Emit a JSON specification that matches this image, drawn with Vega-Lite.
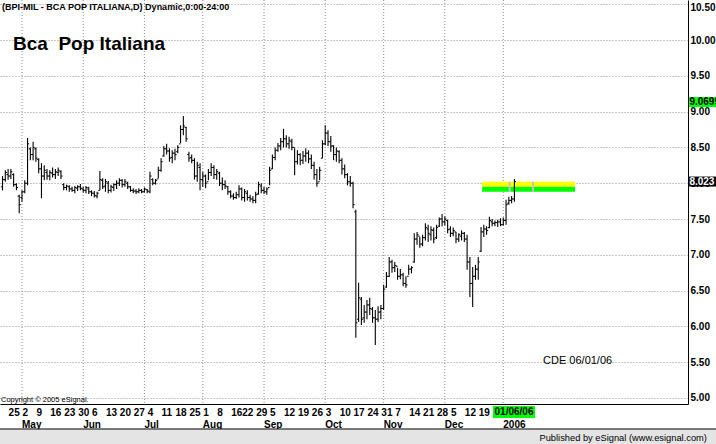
{
  "$schema": "https://vega.github.io/schema/vega-lite/v6.json",
  "width": 688,
  "height": 404,
  "autosize": {"type": "none"},
  "padding": {"left": 0, "top": 0, "right": 28, "bottom": 40},
  "background": "#ffffff",
  "config": {
    "view": {"stroke": null},
    "font": "Liberation Sans",
    "axis": {"labelOverlap": false, "labelFlush": false, "ticks": false, "tickCount": 100},
    "scale": {"continuousPadding": 0}
  },
  "datasets": {
    "months": [
      {"day":6,"month":"May"},{"day":28,"month":"Jun"},{"day":50,"month":"Jul"},
      {"day":71,"month":"Aug"},{"day":93,"month":"Sep"},{"day":115,"month":"Oct"},
      {"day":136,"month":"Nov"},{"day":158,"month":"Dec"},{"day":179,"month":"2006"}
    ],
    "bars": [
      {"day":-1,"open":7.95,"high":8.10,"low":7.90,"close":8.05},
      {"day":0,"open":8.05,"high":8.18,"low":8.02,"close":8.15},
      {"day":1,"open":8.12,"high":8.20,"low":8.05,"close":8.10},
      {"day":2,"open":8.10,"high":8.20,"low":8.06,"close":8.16},
      {"day":3,"open":8.12,"high":8.14,"low":7.95,"close":7.98},
      {"day":4,"open":7.98,"high":8.00,"low":7.90,"close":7.94},
      {"day":5,"open":7.82,"high":7.84,"low":7.58,"close":7.70},
      {"day":6,"open":7.80,"high":7.90,"low":7.74,"close":7.88},
      {"day":7,"open":7.88,"high":8.04,"low":7.86,"close":8.00},
      {"day":8,"open":8.00,"high":8.63,"low":7.97,"close":8.55},
      {"day":9,"open":8.48,"high":8.50,"low":8.32,"close":8.40},
      {"day":10,"open":8.40,"high":8.58,"low":8.32,"close":8.50},
      {"day":11,"open":8.48,"high":8.50,"low":8.30,"close":8.35},
      {"day":12,"open":8.33,"high":8.35,"low":8.14,"close":8.20},
      {"day":13,"open":8.20,"high":8.28,"low":7.79,"close":8.10},
      {"day":14,"open":8.10,"high":8.25,"low":8.04,"close":8.18},
      {"day":15,"open":8.15,"high":8.20,"low":8.05,"close":8.10},
      {"day":16,"open":8.10,"high":8.18,"low":8.04,"close":8.15},
      {"day":17,"open":8.14,"high":8.22,"low":8.08,"close":8.12},
      {"day":18,"open":8.12,"high":8.20,"low":8.06,"close":8.16},
      {"day":19,"open":8.15,"high":8.22,"low":8.10,"close":8.18},
      {"day":20,"open":8.16,"high":8.18,"low":8.06,"close":8.10},
      {"day":21,"open":7.98,"high":8.00,"low":7.90,"close":7.94},
      {"day":22,"open":7.94,"high":7.98,"low":7.90,"close":7.96},
      {"day":23,"open":7.95,"high":7.97,"low":7.88,"close":7.92},
      {"day":24,"open":7.92,"high":7.95,"low":7.88,"close":7.90},
      {"day":25,"open":7.90,"high":7.96,"low":7.86,"close":7.94},
      {"day":26,"open":7.93,"high":7.97,"low":7.89,"close":7.95},
      {"day":27,"open":7.95,"high":7.99,"low":7.90,"close":7.93},
      {"day":28,"open":7.92,"high":7.95,"low":7.87,"close":7.90},
      {"day":29,"open":7.90,"high":7.96,"low":7.86,"close":7.94},
      {"day":30,"open":7.92,"high":7.95,"low":7.85,"close":7.88},
      {"day":31,"open":7.88,"high":7.90,"low":7.82,"close":7.86},
      {"day":32,"open":7.86,"high":7.89,"low":7.80,"close":7.83},
      {"day":33,"open":7.82,"high":7.88,"low":7.79,"close":7.86},
      {"day":34,"open":7.90,"high":8.17,"low":7.90,"close":8.05},
      {"day":35,"open":8.04,"high":8.07,"low":7.92,"close":7.95},
      {"day":36,"open":7.96,"high":8.06,"low":7.88,"close":8.02},
      {"day":37,"open":8.00,"high":8.03,"low":7.86,"close":7.90},
      {"day":38,"open":7.90,"high":7.98,"low":7.87,"close":7.95},
      {"day":39,"open":7.94,"high":8.00,"low":7.89,"close":7.98},
      {"day":40,"open":7.98,"high":8.04,"low":7.92,"close":8.00},
      {"day":41,"open":8.00,"high":8.07,"low":7.96,"close":8.04},
      {"day":42,"open":8.04,"high":8.06,"low":7.94,"close":7.98},
      {"day":43,"open":7.98,"high":8.06,"low":7.95,"close":8.02},
      {"day":44,"open":8.00,"high":8.02,"low":7.92,"close":7.95},
      {"day":45,"open":7.95,"high":7.96,"low":7.88,"close":7.90},
      {"day":46,"open":7.90,"high":7.93,"low":7.86,"close":7.89},
      {"day":47,"open":7.89,"high":7.92,"low":7.85,"close":7.88},
      {"day":48,"open":7.88,"high":7.93,"low":7.86,"close":7.90},
      {"day":49,"open":7.90,"high":7.92,"low":7.86,"close":7.88},
      {"day":50,"open":7.88,"high":7.94,"low":7.87,"close":7.92},
      {"day":51,"open":7.91,"high":7.92,"low":7.86,"close":7.89},
      {"day":52,"open":7.88,"high":8.16,"low":7.86,"close":8.10},
      {"day":53,"open":8.05,"high":8.07,"low":7.97,"close":8.00},
      {"day":54,"open":8.00,"high":8.06,"low":7.98,"close":8.04},
      {"day":55,"open":8.06,"high":8.23,"low":8.07,"close":8.18},
      {"day":56,"open":8.18,"high":8.35,"low":8.16,"close":8.30},
      {"day":57,"open":8.38,"high":8.52,"low":8.37,"close":8.48},
      {"day":58,"open":8.48,"high":8.55,"low":8.40,"close":8.45},
      {"day":59,"open":8.45,"high":8.49,"low":8.30,"close":8.35},
      {"day":60,"open":8.36,"high":8.46,"low":8.28,"close":8.42},
      {"day":61,"open":8.42,"high":8.48,"low":8.32,"close":8.40},
      {"day":62,"open":8.44,"high":8.53,"low":8.42,"close":8.50},
      {"day":63,"open":8.55,"high":8.81,"low":8.56,"close":8.75},
      {"day":64,"open":8.75,"high":8.94,"low":8.67,"close":8.80},
      {"day":65,"open":8.78,"high":8.79,"low":8.58,"close":8.62},
      {"day":66,"open":8.40,"high":8.44,"low":8.30,"close":8.35},
      {"day":67,"open":8.36,"high":8.40,"low":8.28,"close":8.32},
      {"day":68,"open":8.32,"high":8.35,"low":8.05,"close":8.10},
      {"day":69,"open":8.10,"high":8.30,"low":8.02,"close":8.25},
      {"day":70,"open":8.22,"high":8.28,"low":7.90,"close":8.05},
      {"day":71,"open":8.05,"high":8.16,"low":7.95,"close":8.10},
      {"day":72,"open":8.10,"high":8.12,"low":7.93,"close":8.00},
      {"day":73,"open":8.02,"high":8.20,"low":8.04,"close":8.15},
      {"day":74,"open":8.15,"high":8.28,"low":8.10,"close":8.22},
      {"day":75,"open":8.22,"high":8.25,"low":8.06,"close":8.12},
      {"day":76,"open":8.12,"high":8.20,"low":8.05,"close":8.16},
      {"day":77,"open":8.14,"high":8.16,"low":7.96,"close":8.00},
      {"day":78,"open":8.00,"high":8.08,"low":7.90,"close":7.98},
      {"day":79,"open":7.98,"high":8.04,"low":7.92,"close":7.96},
      {"day":80,"open":7.95,"high":7.96,"low":7.84,"close":7.88},
      {"day":81,"open":7.88,"high":7.90,"low":7.79,"close":7.82},
      {"day":82,"open":7.82,"high":7.86,"low":7.77,"close":7.80},
      {"day":83,"open":7.80,"high":7.88,"low":7.78,"close":7.84},
      {"day":84,"open":7.84,"high":7.97,"low":7.80,"close":7.92},
      {"day":85,"open":7.92,"high":7.94,"low":7.76,"close":7.80},
      {"day":86,"open":7.80,"high":7.92,"low":7.74,"close":7.88},
      {"day":87,"open":7.86,"high":7.90,"low":7.76,"close":7.80},
      {"day":88,"open":7.80,"high":7.84,"low":7.74,"close":7.78},
      {"day":89,"open":7.78,"high":7.82,"low":7.72,"close":7.76},
      {"day":90,"open":7.76,"high":7.88,"low":7.72,"close":7.84},
      {"day":91,"open":7.85,"high":8.02,"low":7.84,"close":7.98},
      {"day":92,"open":7.96,"high":8.00,"low":7.86,"close":7.90},
      {"day":93,"open":7.90,"high":7.95,"low":7.85,"close":7.88},
      {"day":94,"open":7.88,"high":7.94,"low":7.84,"close":7.92},
      {"day":95,"open":7.94,"high":8.23,"low":7.97,"close":8.18},
      {"day":96,"open":8.20,"high":8.40,"low":8.20,"close":8.36},
      {"day":97,"open":8.36,"high":8.50,"low":8.32,"close":8.46},
      {"day":98,"open":8.46,"high":8.56,"low":8.44,"close":8.52},
      {"day":99,"open":8.52,"high":8.63,"low":8.46,"close":8.58},
      {"day":100,"open":8.58,"high":8.76,"low":8.50,"close":8.62},
      {"day":101,"open":8.62,"high":8.67,"low":8.50,"close":8.55},
      {"day":102,"open":8.55,"high":8.65,"low":8.48,"close":8.60},
      {"day":103,"open":8.58,"high":8.62,"low":8.46,"close":8.50},
      {"day":104,"open":8.50,"high":8.49,"low":8.11,"close":8.30},
      {"day":105,"open":8.30,"high":8.46,"low":8.26,"close":8.40},
      {"day":106,"open":8.40,"high":8.42,"low":8.25,"close":8.32},
      {"day":107,"open":8.32,"high":8.45,"low":8.27,"close":8.38},
      {"day":108,"open":8.38,"high":8.49,"low":8.30,"close":8.42},
      {"day":109,"open":8.42,"high":8.46,"low":8.28,"close":8.34},
      {"day":110,"open":8.34,"high":8.40,"low":8.20,"close":8.25},
      {"day":111,"open":8.25,"high":8.30,"low":8.05,"close":8.12},
      {"day":112,"open":8.12,"high":8.20,"low":7.95,"close":8.00},
      {"day":113,"open":8.02,"high":8.23,"low":8.04,"close":8.18},
      {"day":114,"open":8.35,"high":8.60,"low":8.35,"close":8.55},
      {"day":115,"open":8.55,"high":8.81,"low":8.53,"close":8.70},
      {"day":116,"open":8.70,"high":8.74,"low":8.52,"close":8.58},
      {"day":117,"open":8.58,"high":8.66,"low":8.44,"close":8.52},
      {"day":118,"open":8.52,"high":8.53,"low":8.32,"close":8.40},
      {"day":119,"open":8.40,"high":8.50,"low":8.30,"close":8.45},
      {"day":120,"open":8.44,"high":8.46,"low":8.28,"close":8.32},
      {"day":121,"open":8.32,"high":8.35,"low":8.12,"close":8.20},
      {"day":122,"open":8.20,"high":8.26,"low":8.07,"close":8.12},
      {"day":123,"open":8.12,"high":8.14,"low":7.97,"close":8.02},
      {"day":124,"open":8.02,"high":8.10,"low":7.95,"close":8.00},
      {"day":125,"open":8.00,"high":8.02,"low":7.65,"close":7.70},
      {"day":126,"open":7.60,"high":7.63,"low":5.84,"close":6.05},
      {"day":127,"open":6.10,"high":6.61,"low":6.06,"close":6.40},
      {"day":128,"open":6.38,"high":6.41,"low":6.02,"close":6.10},
      {"day":129,"open":6.12,"high":6.30,"low":6.05,"close":6.20},
      {"day":130,"open":6.20,"high":6.37,"low":6.10,"close":6.30},
      {"day":131,"open":6.30,"high":6.40,"low":6.16,"close":6.25},
      {"day":132,"open":6.24,"high":6.27,"low":6.05,"close":6.12},
      {"day":133,"open":6.12,"high":6.23,"low":5.74,"close":6.10},
      {"day":134,"open":6.10,"high":6.28,"low":6.06,"close":6.20},
      {"day":135,"open":6.20,"high":6.30,"low":6.10,"close":6.25},
      {"day":136,"open":6.25,"high":6.58,"low":6.23,"close":6.52},
      {"day":137,"open":6.55,"high":6.76,"low":6.54,"close":6.70},
      {"day":138,"open":6.70,"high":6.97,"low":6.69,"close":6.90},
      {"day":139,"open":6.90,"high":6.93,"low":6.75,"close":6.82},
      {"day":140,"open":6.82,"high":6.90,"low":6.76,"close":6.85},
      {"day":141,"open":6.84,"high":6.82,"low":6.65,"close":6.70},
      {"day":142,"open":6.70,"high":6.80,"low":6.66,"close":6.72},
      {"day":143,"open":6.72,"high":6.75,"low":6.56,"close":6.60},
      {"day":144,"open":6.60,"high":6.70,"low":6.54,"close":6.58},
      {"day":145,"open":6.70,"high":6.86,"low":6.72,"close":6.80},
      {"day":146,"open":6.80,"high":6.84,"low":6.74,"close":6.82},
      {"day":147,"open":6.90,"high":7.30,"low":6.89,"close":7.22},
      {"day":148,"open":7.22,"high":7.32,"low":7.14,"close":7.28},
      {"day":149,"open":7.26,"high":7.25,"low":7.10,"close":7.15},
      {"day":150,"open":7.15,"high":7.28,"low":7.12,"close":7.24},
      {"day":151,"open":7.24,"high":7.44,"low":7.20,"close":7.38},
      {"day":152,"open":7.36,"high":7.42,"low":7.18,"close":7.30},
      {"day":153,"open":7.28,"high":7.40,"low":7.20,"close":7.35},
      {"day":154,"open":7.34,"high":7.38,"low":7.16,"close":7.22},
      {"day":155,"open":7.24,"high":7.42,"low":7.22,"close":7.38},
      {"day":156,"open":7.40,"high":7.52,"low":7.39,"close":7.50},
      {"day":157,"open":7.50,"high":7.57,"low":7.40,"close":7.46},
      {"day":158,"open":7.46,"high":7.54,"low":7.41,"close":7.50},
      {"day":159,"open":7.48,"high":7.49,"low":7.30,"close":7.35},
      {"day":160,"open":7.36,"high":7.40,"low":7.25,"close":7.30},
      {"day":161,"open":7.30,"high":7.38,"low":7.26,"close":7.34},
      {"day":162,"open":7.32,"high":7.32,"low":7.16,"close":7.22},
      {"day":163,"open":7.22,"high":7.30,"low":7.18,"close":7.28},
      {"day":164,"open":7.26,"high":7.34,"low":7.20,"close":7.30},
      {"day":165,"open":7.30,"high":7.32,"low":7.18,"close":7.22},
      {"day":166,"open":7.22,"high":7.28,"low":6.79,"close":6.90},
      {"day":167,"open":6.90,"high":6.97,"low":6.41,"close":6.60},
      {"day":168,"open":6.60,"high":6.83,"low":6.27,"close":6.70},
      {"day":169,"open":6.70,"high":6.86,"low":6.65,"close":6.80},
      {"day":170,"open":6.80,"high":6.97,"low":6.65,"close":6.90},
      {"day":171,"open":7.05,"high":7.39,"low":7.04,"close":7.32},
      {"day":172,"open":7.32,"high":7.42,"low":7.25,"close":7.36},
      {"day":173,"open":7.36,"high":7.40,"low":7.28,"close":7.34},
      {"day":174,"open":7.38,"high":7.53,"low":7.37,"close":7.48},
      {"day":175,"open":7.46,"high":7.50,"low":7.40,"close":7.44},
      {"day":176,"open":7.44,"high":7.48,"low":7.40,"close":7.45},
      {"day":177,"open":7.45,"high":7.49,"low":7.39,"close":7.46},
      {"day":178,"open":7.46,"high":7.51,"low":7.40,"close":7.42},
      {"day":179,"open":7.42,"high":7.52,"low":7.41,"close":7.48},
      {"day":180,"open":7.48,"high":7.77,"low":7.42,"close":7.70},
      {"day":181,"open":7.72,"high":7.81,"low":7.70,"close":7.76},
      {"day":182,"open":7.76,"high":7.82,"low":7.72,"close":7.78},
      {"day":183,"open":7.78,"high":8.06,"low":7.74,"close":8.023}
    ],
    "band": [
      {"part":"upper","start":171.4,"end":204.8,"top":8.02,"bottom":7.95},
      {"part":"lower","start":171.4,"end":204.8,"top":7.95,"bottom":7.88}
    ],
    "bandMarks": [
      {"day":181.3,"top":8.02,"bottom":7.88},
      {"day":189.7,"top":8.02,"bottom":7.88}
    ],
    "markers": [
      {"kind":"high","label":"9.0699","price":9.0699},
      {"kind":"last","label":"8.023","price":8.023}
    ]
  },
  "layer": [
    {
      "data": {"name": "months"},
      "mark": {"type": "rule", "color": "#909090", "strokeWidth": 1, "strokeDash": [1,2]},
      "encoding": {
        "x": {
          "field": "day", "type": "quantitative", "title": null,
          "scale": {"domain": [-1.905, 245.4], "nice": false, "zero": false, "padding": 0},
          "axis": {
            "orient": "bottom",
            "values": [1,6,11,16,21,26,31,36,41,46,51,56,61,66,71,76,81,85,90,95,100,105,110,115,120,125,130,135,140,145,150,155,160,165,170],
            "tickCount": 100,
            "labelExpr": "['25','2','9','16','23','30','6','13','20','27','4','11','18','25','1','8','16','22','29','5','12','19','26','3','10','17','24','31','7','14','21','28','5','12','19'][indexof([1,6,11,16,21,26,31,36,41,46,51,56,61,66,71,76,81,85,90,95,100,105,110,115,120,125,130,135,140,145,150,155,160,165,170], datum.value)]",
            "labelAlign": "left", "labelBaseline": "top", "labelPadding": 3,
            "labelFont": "Liberation Sans", "labelFontSize": 10, "labelFontWeight": "bold", "labelColor": "#000000",
            "labelFlush": false, "labelOverlap": false,
            "grid": false, "ticks": false, "domain": true, "domainColor": "#000000", "domainWidth": 1, "title": null
          }
        }
      }
    },
    {
      "data": {"name": "band"},
      "mark": {"type": "rect"},
      "encoding": {
        "x": {"field": "start", "type": "quantitative", "title": null},
        "x2": {"field": "end", "title": null},
        "y": {
          "field": "top", "type": "quantitative", "title": null,
          "scale": {"domain": [4.916, 10.559], "nice": false, "zero": false, "padding": 0},
          "axis": {
            "orient": "right",
            "values": [5,5.5,6,6.5,7,7.5,8,8.5,9,9.5,10,10.5],
            "tickCount": 100,
            "format": ".2f",
            "grid": true, "gridColor": "#909090", "gridDash": [1,2], "gridWidth": 1,
            "domain": true, "domainColor": "#000000", "domainWidth": 1, "ticks": false,
            "labelPadding": 2, "labelFont": "Liberation Sans", "labelFontSize": 10, "labelFontWeight": "bold", "labelColor": "#000000",
            "labelOffset": {"condition": {"test": "datum.value >= 10.5", "value": 3}, "value": 0},
            "labelFlush": false, "labelOverlap": false, "title": null
          }
        },
        "y2": {"field": "bottom", "title": null},
        "color": {"condition": {"test": "datum.part == 'upper'", "value": "#ffff00"}, "value": "#00ff00"}
      }
    },
    {
      "data": {"name": "bandMarks"},
      "mark": {"type": "rule", "color": "#c4c4c4", "strokeWidth": 2},
      "encoding": {
        "x": {"field": "day", "type": "quantitative", "title": null},
        "y": {"field": "top", "type": "quantitative", "title": null},
        "y2": {"field": "bottom", "title": null}
      }
    },
    {
      "data": {"name": "bars"},
      "mark": {"type": "rule", "color": "#000000", "strokeWidth": 1.1},
      "encoding": {
        "x": {"field": "day", "type": "quantitative", "title": null},
        "y": {"field": "low", "type": "quantitative", "title": null},
        "y2": {"field": "high", "title": null}
      }
    },
    {
      "data": {"name": "bars"},
      "mark": {"type": "rule", "color": "#000000", "strokeWidth": 1, "xOffset": -1.6, "x2Offset": 0},
      "encoding": {
        "x": {"field": "day", "type": "quantitative", "title": null},
        "x2": {"field": "day", "title": null},
        "y": {"field": "open", "type": "quantitative", "title": null}
      }
    },
    {
      "data": {"name": "bars"},
      "mark": {"type": "rule", "color": "#000000", "strokeWidth": 1, "xOffset": 0, "x2Offset": 1.6},
      "encoding": {
        "x": {"field": "day", "type": "quantitative", "title": null},
        "x2": {"field": "day", "title": null},
        "y": {"field": "close", "type": "quantitative", "title": null}
      }
    },
    {
      "data": {"name": "months"},
      "mark": {"type": "text", "align": "left", "baseline": "alphabetic", "font": "Liberation Sans", "fontSize": 10, "fontWeight": "bold", "color": "#000000"},
      "encoding": {
        "x": {"field": "day", "type": "quantitative", "title": null},
        "y": {"datum": 4.581, "type": "quantitative"},
        "text": {"field": "month"}
      }
    },
    {
      "data": {"values": [{}]},
      "mark": {"type": "text", "text": "(BPI-MIL - BCA POP ITALIANA,D) Dynamic,0:00-24:00", "align": "left", "baseline": "alphabetic", "font": "Liberation Sans", "fontSize": 9, "fontWeight": "bold", "color": "#000000"},
      "encoding": {
        "x": {"datum": -1.2, "type": "quantitative"},
        "y": {"datum": 10.42, "type": "quantitative"}
      }
    },
    {
      "data": {"values": [{}]},
      "mark": {"type": "text", "text": "Bca\u00a0 Pop Italiana", "align": "left", "baseline": "alphabetic", "font": "Liberation Sans", "fontSize": 19, "fontWeight": "bold", "color": "#000000"},
      "encoding": {
        "x": {"datum": 2.77, "type": "quantitative"},
        "y": {"datum": 9.86, "type": "quantitative"}
      }
    },
    {
      "data": {"values": [{}]},
      "mark": {"type": "text", "text": "CDE 06/01/06", "align": "left", "baseline": "alphabetic", "font": "Liberation Sans", "fontSize": 11, "color": "#000000"},
      "encoding": {
        "x": {"datum": 193.3, "type": "quantitative"},
        "y": {"datum": 5.468, "type": "quantitative"}
      }
    },
    {
      "data": {"values": [{}]},
      "mark": {"type": "text", "text": "Copyright © 2005 eSignal.", "align": "left", "baseline": "alphabetic", "font": "Liberation Sans", "fontSize": 7.5, "color": "#000000"},
      "encoding": {
        "x": {"datum": -1.55, "type": "quantitative"},
        "y": {"datum": 4.944, "type": "quantitative"}
      }
    },
    {
      "data": {"name": "markers"},
      "transform": [{"filter": "datum.kind == 'high'"}],
      "mark": {"type": "bar", "size": 10, "orient": "horizontal", "color": "#00ff00", "yOffset": -4.5},
      "encoding": {
        "x": {"datum": 245.8, "type": "quantitative"},
        "x2": {"datum": 256.5},
        "y": {"field": "price", "type": "quantitative", "title": null}
      }
    },
    {
      "data": {"name": "markers"},
      "transform": [{"filter": "datum.kind == 'high'"}],
      "mark": {"type": "text", "align": "left", "baseline": "middle", "font": "Liberation Sans", "fontSize": 10, "fontWeight": "bold", "color": "#000000", "yOffset": -4.5},
      "encoding": {
        "x": {"datum": 245.9, "type": "quantitative"},
        "y": {"field": "price", "type": "quantitative", "title": null},
        "text": {"field": "label"}
      }
    },
    {
      "data": {"name": "markers"},
      "transform": [{"filter": "datum.kind == 'last'"}],
      "mark": {"type": "bar", "size": 10, "orient": "horizontal", "color": "#000000"},
      "encoding": {
        "x": {"datum": 245.8, "type": "quantitative"},
        "x2": {"datum": 256.5},
        "y": {"field": "price", "type": "quantitative", "title": null}
      }
    },
    {
      "data": {"name": "markers"},
      "transform": [{"filter": "datum.kind == 'last'"}],
      "mark": {"type": "text", "align": "left", "baseline": "middle", "font": "Liberation Sans", "fontSize": 10, "fontWeight": "bold", "color": "#ffffff"},
      "encoding": {
        "x": {"datum": 245.9, "type": "quantitative"},
        "y": {"field": "price", "type": "quantitative", "title": null},
        "text": {"field": "label"}
      }
    },
    {
      "data": {"values": [{}]},
      "mark": {"type": "rect", "color": "#00ff00"},
      "encoding": {
        "x": {"datum": 175.3, "type": "quantitative"},
        "x2": {"datum": 190.4},
        "y": {"datum": 4.888, "type": "quantitative"},
        "y2": {"datum": 4.721}
      }
    },
    {
      "data": {"values": [{}]},
      "mark": {"type": "text", "text": "01/06/06", "align": "center", "baseline": "middle", "font": "Liberation Sans", "fontSize": 10, "fontWeight": "bold", "color": "#000000"},
      "encoding": {
        "x": {"datum": 182.85, "type": "quantitative"},
        "y": {"datum": 4.805, "type": "quantitative"}
      }
    },
    {
      "data": {"values": [{}]},
      "mark": {"type": "rect", "fill": "#e4e4e4", "stroke": "#000000", "strokeWidth": 1},
      "encoding": {
        "x": {"datum": -3, "type": "quantitative"},
        "x2": {"datum": 260},
        "y": {"datum": 4.567, "type": "quantitative"},
        "y2": {"datum": 4.2}
      }
    },
    {
      "data": {"values": [{}]},
      "mark": {"type": "text", "text": "Published by eSignal (www.esignal.com)", "align": "right", "baseline": "alphabetic", "font": "Liberation Sans", "fontSize": 9.3, "color": "#000000"},
      "encoding": {
        "x": {"datum": 252.2, "type": "quantitative"},
        "y": {"datum": 4.405, "type": "quantitative"}
      }
    }
  ]
}
